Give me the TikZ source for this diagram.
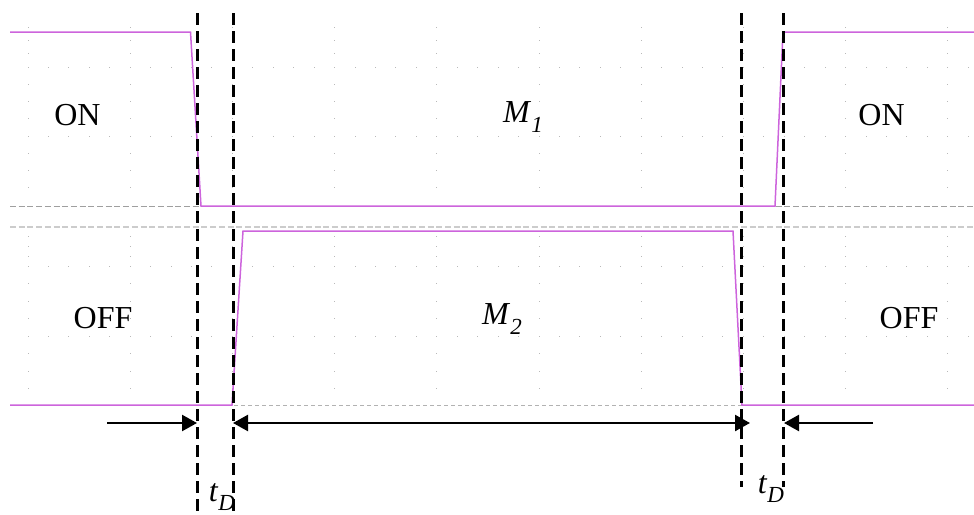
\documentclass[tikz,border=0pt]{standalone}
\usepackage{fontspec}
\setmainfont{Liberation Serif}
\usetikzlibrary{arrows.meta}
\definecolor{sig}{RGB}{205,100,220}
\definecolor{gridc}{RGB}{185,185,185}
\newcommand{\mysub}[2]{\textit{#1}\raisebox{-0.3em}{\fontsize{23}{26}\selectfont\textit{#2}}}
\begin{document}
\begin{tikzpicture}[x=1pt,y=-1pt,
  lbl/.style={font=\fontsize{32}{38}\selectfont, inner sep=0pt},
  sigline/.style={draw=sig, line width=1.5pt, line join=miter},
  vdash/.style={draw=black, line width=3pt, dash pattern=on 11.5pt off 6.5pt},
  arr/.style={draw=black, line width=2.4pt},
  gdot/.style={fill=gridc}]
\useasboundingbox (0,0) rectangle (974,514);
% grid dots
\foreach \i in {0,...,9} {
  \pgfmathsetmacro\xx{28+102.2*\i}
  \foreach \yy in {27,40.3,53.6,84.25,101.5,118.75,153.25,170.5,187.75,236,246,256,283.5,301,318.5,353.5,371,388.5}
    \fill[gdot] (\xx-0.5,\yy-0.5) rectangle ++(1,1);
}
\foreach \yy in {67,136,266,336} {
  \foreach \j in {0,...,46}
    \fill[gdot] ({28+20.44*\j-0.5},\yy-0.5) rectangle ++(1,1);
}
% gray reference lines
\draw[gray!75, line width=1pt, dash pattern=on 6pt off 2.7pt] (10,206) -- (974,206);
\draw[gray!40, line width=1.6pt, dash pattern=on 6pt off 2.7pt] (10,227) -- (974,227);
\draw[gray!60, line width=0.9pt, dash pattern=on 4pt off 3pt] (10,405) -- (974,405);
% signals
\draw[sigline] (10,32) -- (190.5,32) -- (201,206) -- (775,206) -- (783,32) -- (974,32);
\draw[sigline] (10,405) -- (232,405) -- (243,231) -- (733,231) -- (742,405) -- (974,405);
% dashed verticals
\coordinate (v1t) at (197,13); \coordinate (v1b) at (197,514);
\coordinate (v2t) at (233,13); \coordinate (v2b) at (233,514);
\coordinate (v3t) at (741,13); \coordinate (v3b) at (741,487);
\coordinate (v4t) at (783,13); \coordinate (v4b) at (783,487);
\draw[vdash] (v1t) -- (v1b);
\draw[vdash] (v2t) -- (v2b);
\draw[vdash] (v3t) -- (v3b);
\draw[vdash] (v4t) -- (v4b);
% arrows
\coordinate (a1s) at (107,423); \coordinate (a1e) at (197,423);
\coordinate (a2s) at (233,423); \coordinate (a2e) at (750,423);
\coordinate (a3s) at (873,423); \coordinate (a3e) at (784,423);
\draw[arr, -{Triangle[length=15pt,width=16pt]}] (a1s) -- (a1e);
\draw[arr, {Triangle[length=15pt,width=16pt]}-{Triangle[length=15pt,width=16pt]}] (a2s) -- (a2e);
\draw[arr, -{Triangle[length=15pt,width=16pt]}] (a3s) -- (a3e);
% labels
\node[lbl] (on1) at (77.5,115) {ON};
\node[lbl] (on2) at (881.5,115) {ON};
\node[lbl] (off1) at (103,318) {OFF};
\node[lbl] (off2) at (909,318) {OFF};
\node[lbl] (m1) at (523,117) {\mysub{M}{1}};
\node[lbl] (m2) at (502,319) {\mysub{M}{2}};
\node[lbl] (td1) at (222,497) {\mysub{t}{D}};
\node[lbl] (td2) at (771,489) {\mysub{t}{D}};
\end{tikzpicture}
\end{document}
